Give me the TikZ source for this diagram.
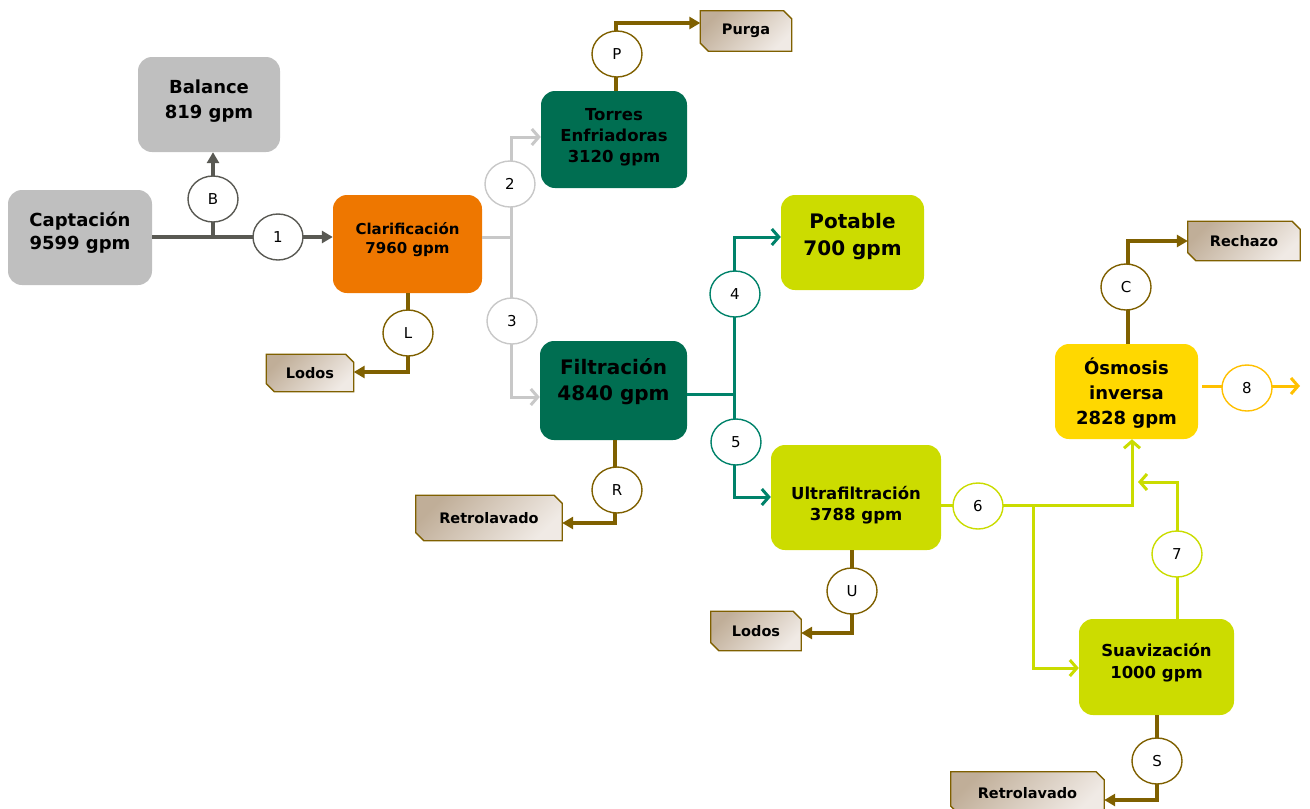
\documentclass[tikz,border=0pt]{standalone}
\usepackage{fontspec}
\setmainfont{DejaVu Sans}
\usetikzlibrary{arrows.meta,shapes.geometric,backgrounds}
\definecolor{boxgray}{HTML}{BFBFBF}
\definecolor{orng}{HTML}{EE7700}
\definecolor{dgreen}{HTML}{006E51}
\definecolor{lime}{HTML}{CCDC00}
\definecolor{yell}{HTML}{FFD800}
\definecolor{dkline}{HTML}{595953}
\definecolor{ltline}{HTML}{C8C8C8}
\definecolor{teal}{HTML}{00826A}
\definecolor{brn}{HTML}{7F6000}
\definecolor{limeline}{HTML}{CADC00}
\definecolor{gold}{HTML}{FFC000}
\definecolor{tagA}{HTML}{C0AE98}
\definecolor{tagB}{HTML}{F0EAE5}
\newcommand{\tagoutline}[1]{%
  \path[tagfill] (#1.north west) -- ([xshift=-8pt]#1.north east) -- ([yshift=-8pt]#1.north east)
    -- (#1.south east) -- ([xshift=8pt]#1.south west) -- ([yshift=8pt]#1.south west) -- cycle;}
\begin{document}
\begin{tikzpicture}[x=1pt,y=-1pt,
  box/.style={rounded corners=14pt, inner sep=0pt, draw=none},
  txt/.style={align=center, inner sep=0pt, text=black},
  circ/.style={ellipse, draw, fill=white, line width=1.4pt, minimum width=50pt, minimum height=46pt, inner sep=0pt, font=\fontsize{15}{16}\selectfont},
  tag/.style={rectangle, inner sep=0pt, font=\fontsize{14.5}{16}\selectfont\bfseries},
  tagfill/.style={draw=brn, line width=1.3pt, top color=tagA, bottom color=tagB, shading angle=45},
  dk/.style={draw=dkline, line width=3.2pt},
  lg/.style={draw=ltline, line width=3pt},
  tl/.style={draw=teal, line width=3pt},
  lm/.style={draw=limeline, line width=3pt},
  gd/.style={draw=gold, line width=3pt},
  br/.style={draw=brn, line width=3.2pt},
  tri/.style={-{Triangle[length=11pt,width=12pt]}},
  barb/.style={-{Straight Barb[length=7pt,width=16pt]}}
]
\useasboundingbox (0,0) rectangle (1310,809);

% process boxes
\node[box, fill=boxgray, minimum width=144pt, minimum height=95pt] (cap) at (80,237.5) {};
\node[box, fill=boxgray, minimum width=142pt, minimum height=95pt] (bal) at (209,104.5) {};
\node[box, fill=orng, minimum width=149pt, minimum height=98pt] (cla) at (407.5,244) {};
\node[box, fill=dgreen, minimum width=146pt, minimum height=97pt] (tor) at (614,139.5) {};
\node[box, fill=lime, minimum width=143pt, minimum height=95pt] (pot) at (852.5,242.5) {};
\node[box, fill=dgreen, minimum width=147pt, minimum height=99pt] (fil) at (613.5,390.5) {};
\node[box, fill=lime, minimum width=170pt, minimum height=105pt] (ult) at (856,497.5) {};
\node[box, fill=yell, minimum width=143pt, minimum height=95pt] (osm) at (1126.5,391.5) {};
\node[box, fill=lime, minimum width=155pt, minimum height=96pt] (sua) at (1156.5,667) {};

% box texts
\node[txt, font=\fontsize{18}{23}\selectfont\bfseries] (capt) at (80,233) {Captación\\9599 gpm};
\node[txt, font=\fontsize{18}{25}\selectfont\bfseries] (balt) at (209,101) {Balance\\819 gpm};
\node[txt, font=\fontsize{15}{19}\selectfont\bfseries] (clat) at (407.5,240) {Clarificación\\7960 gpm};
\node[txt, font=\fontsize{16.5}{21}\selectfont\bfseries] (tort) at (614,137.5) {Torres\\Enfriadoras\\3120 gpm};
\node[txt, font=\fontsize{20}{27}\selectfont\bfseries] (pott) at (852.5,237) {Potable\\700 gpm};
\node[txt, font=\fontsize{20}{26}\selectfont\bfseries] (filt) at (613.5,381.5) {Filtración\\4840 gpm};
\node[txt, font=\fontsize{16.5}{21}\selectfont\bfseries] (ultt) at (856,505) {Ultrafiltración\\3788 gpm};
\node[txt, font=\fontsize{18}{25}\selectfont\bfseries] (osmt) at (1126.5,393) {Ósmosis\\inversa\\2828 gpm};
\node[txt, font=\fontsize{16.5}{22}\selectfont\bfseries] (suat) at (1156.5,662.5) {Suavización\\1000 gpm};

% output tags
\node[tag, minimum width=91pt, minimum height=40pt] (pur) at (746,31) {Purga};
\node[tag, minimum width=112pt, minimum height=39pt] (rec) at (1244,241) {Rechazo};
\node[tag, minimum width=87pt, minimum height=37pt] (lod1) at (310,373) {Lodos};
\node[tag, minimum width=146pt, minimum height=45pt] (ret1) at (489,518) {Retrolavado};
\node[tag, minimum width=90pt, minimum height=39pt] (lod2) at (756,631) {Lodos};
\node[tag, minimum width=153pt, minimum height=42pt] (ret2) at (1027.5,793) {Retrolavado};
\begin{scope}[on background layer]
  \tagoutline{pur}\tagoutline{rec}\tagoutline{lod1}\tagoutline{ret1}\tagoutline{lod2}\tagoutline{ret2}
\end{scope}

% junction coordinates
\coordinate (j1) at (213,237);
\coordinate (j2) at (511,237);
\coordinate (t2) at (511,137);
\coordinate (t3) at (511,397);
\coordinate (p1) at (616,23);
\coordinate (l1) at (408,372);
\coordinate (r1) at (615,523);
\coordinate (jf) at (734,394);
\coordinate (t4) at (734,237);
\coordinate (t5) at (734,497);
\coordinate (j6) at (1033,505);
\coordinate (o6) at (1132,505);
\coordinate (k6) at (1033,668);
\coordinate (m7) at (1177,482);
\coordinate (a7) at (1138,482);
\coordinate (u1) at (852,633);
\coordinate (s1) at (1157,800);
\coordinate (c1) at (1128,241);
\coordinate (e8) at (1300,386);

% connectors
\draw[dk, tri] (cap.east |- j1) -- (cla.west |- j1);
\draw[dk, tri] (j1) -- (bal.south -| j1);

\draw[lg] (cla.east |- j2) -- (j2);
\draw[lg, barb] (j2) -- (t2) -- (tor.west |- t2);
\draw[lg, barb] (j2) -- (t3) -- (fil.west |- t3);

\draw[br, tri] (tor.north -| p1) -- (p1) -- (pur.west |- p1);
\draw[br, tri] (cla.south -| l1) -- (l1) -- (lod1.east |- l1);
\draw[br, tri] (fil.south -| r1) -- (r1) -- (ret1.east |- r1);
\draw[br, tri] (ult.south -| u1) -- (u1) -- (lod2.east |- u1);
\draw[br, tri] (sua.south -| s1) -- (s1) -- (ret2.east |- s1);
\draw[br, tri] (osm.north -| c1) -- (c1) -- (rec.west |- c1);

\draw[tl] (fil.east |- jf) -- (jf);
\draw[tl, barb] (jf) -- (t4) -- (pot.west |- t4);
\draw[tl, barb] (jf) -- (t5) -- (ult.west |- t5);

\draw[lm, barb] (ult.east |- j6) -- (o6) -- (osm.south -| o6);
\draw[lm, barb] (j6) -- (k6) -- (sua.west |- k6);
\draw[lm, barb] (sua.north -| m7) -- (m7) -- (a7);

\draw[gd, barb, shorten <=4pt] (osm.east |- e8) -- (e8);

% flow markers
\node[circ, draw=dkline] (cB) at (213,199) {B};
\node[circ, draw=dkline] (c1n) at (278,237) {1};
\node[circ, draw=ltline] (c2n) at (510,184) {2};
\node[circ, draw=ltline] (c3n) at (512,321) {3};
\node[circ, draw=brn] (cP) at (617,54) {P};
\node[circ, draw=brn] (cL) at (408,333) {L};
\node[circ, draw=brn] (cR) at (617,490) {R};
\node[circ, draw=teal] (c4n) at (735,294) {4};
\node[circ, draw=teal] (c5n) at (736,442) {5};
\node[circ, draw=limeline] (c6n) at (978,506) {6};
\node[circ, draw=brn] (cU) at (852,591) {U};
\node[circ, draw=brn] (cC) at (1126,287) {C};
\node[circ, draw=limeline] (c7n) at (1177,554) {7};
\node[circ, draw=gold] (c8n) at (1247,388) {8};
\node[circ, draw=brn] (cS) at (1157,761) {S};
\end{tikzpicture}
\end{document}
